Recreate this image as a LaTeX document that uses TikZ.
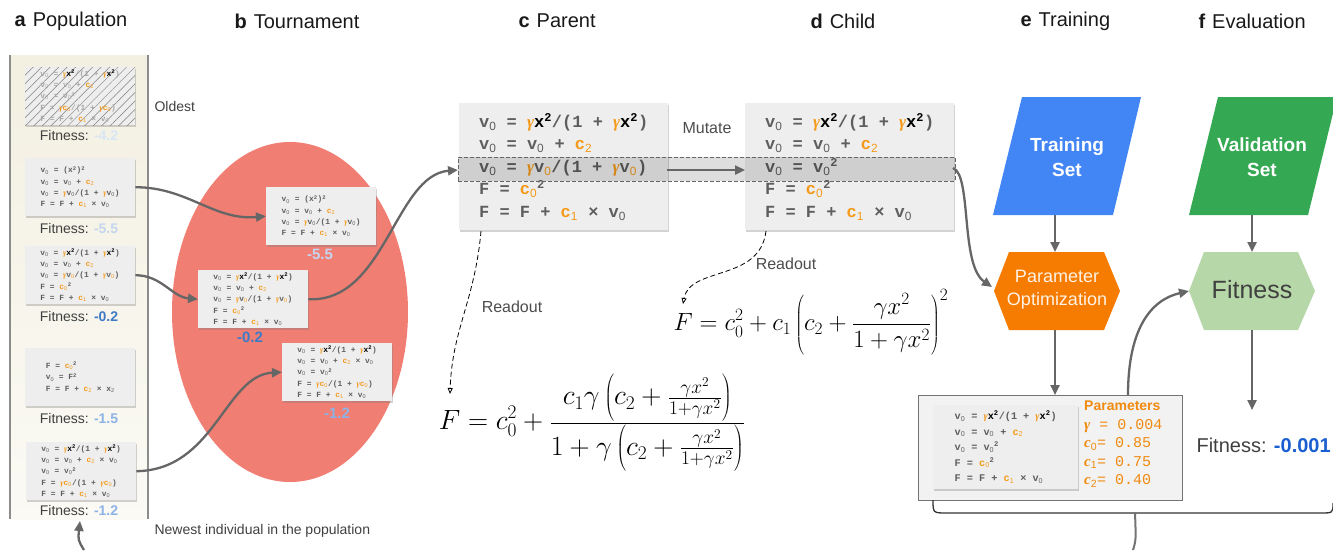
\documentclass[tikz,border=0pt]{standalone}
\usepackage[no-math]{fontspec}
\usepackage{graphicx}
\setmainfont{Liberation Sans}
\setsansfont{Liberation Sans}
\newfontfamily\codefont{Liberation Mono}
\newfontfamily\gfont{Liberation Serif}
\usetikzlibrary{arrows.meta,shadows,patterns.meta,shapes.geometric}
\definecolor{corg}{HTML}{F59A1A}
\definecolor{porg}{HTML}{F08A10}
\definecolor{codeg}{HTML}{5E5E5E}
\definecolor{boxg}{HTML}{EEEEEE}
\definecolor{salmon}{HTML}{F07E72}
\definecolor{beige}{HTML}{F3F0E1}
\definecolor{agray}{HTML}{666666}
\definecolor{tblue}{HTML}{4285F4}
\definecolor{vgreen}{HTML}{34A853}
\definecolor{oorange}{HTML}{F57C00}
\definecolor{lgreen}{HTML}{B6D7A8}
\definecolor{fblue}{HTML}{3F7AC6}
\definecolor{lblue}{HTML}{8DB3E6}
\definecolor{vlblue}{HTML}{C4D6EF}
\definecolor{xlblue}{HTML}{D8E5F5}
\definecolor{dblue}{HTML}{1A5FD0}
\newcommand\Vz{v\textsubscript{\sffamily\mdseries 0}}
\newcommand\Vo{v\textsubscript{\sffamily\mdseries\color{corg}0}}
\newcommand\Cc[1]{{\color{corg}c\textsubscript{\sffamily\mdseries #1}}}
\newcommand\Gm{{\color{corg}\gfont\bfseries\itshape γ}}
\newcommand\Xs{{\color{black}x\textsuperscript{2}}}
\newcommand\Tsq{\textsuperscript{2}}
\newcommand\Tall{\rule[-14pt]{0pt}{38pt}}
\newcommand\progA{\Vz{} = (x\Tsq)\Tsq\\ \Vz{} = \Vz{} + \Cc2\\ \Vz{} = \Gm\Vz/(1 + \Gm\Vz)\\ F = F + \Cc1{} × \Vz}
\newcommand\progB{\Vz{} = \Gm\Xs/(1 + \Gm\Xs)\\ \Vz{} = \Vz{} + \Cc2\\ \Vz{} = \Gm\Vo/(1 + \Gm\Vo)\\ F = \Cc0\Tsq\\ F = F + \Cc1{} × \Vz}
\newcommand\progC{F = \Cc0\Tsq\\ \Vz{} = F\Tsq\\ F = F + \Cc2{} × x\textsubscript{\sffamily\mdseries 2}}
\newcommand\progD{\Vz{} = \Gm\Xs/(1 + \Gm\Xs)\\ \Vz{} = \Vz{} + \Cc2{} × \Vz\\ \Vz{} = \Vz\Tsq\\ F = \Gm\Cc0/(1 + \Gm\Cc0)\\ F = F + \Cc1{} × \Vz}
\newcommand\progO{\Vz{} = \Gm\Xs/(1 + \Gm\Xs)\\ \Vz{} = \Vz{} + \Cc2\\ \Vz{} = \Vz\Tsq\\ F = \Gm\Cc0/(1 + \Gm\Cc0)\\ F = F + \Cc1{} × \Vz}
\newcommand\progE{\Vz{} = \Gm\Xs/(1 + \Gm\Xs)\\ \Vz{} = \Vz{} + \Cc2\\ \Vz{} = \Vz\Tsq\\ F = \Cc0\Tsq\\ F = F + \Cc1{} × \Vz}
\begin{document}
\begin{tikzpicture}[x=1pt,y=-1pt,
  conn/.style={draw=agray, line width=2.3pt, -{Triangle[length=10pt,width=9pt]}},
  rdout/.style={draw=black, line width=0.8pt, dash pattern=on 5pt off 3pt, -{Triangle[open,length=6pt,width=5pt]}},
  cbox/.style={fill=boxg, anchor=north west, inner sep=0pt, align=left, text=codeg, drop shadow={shadow xshift=1pt,shadow yshift=-2pt,opacity=0.35}},
  sbox/.style={cbox, minimum width=110pt, minimum height=58pt, font=\codefont\bfseries\fontsize{7.9}{11.3}\selectfont},
  bbox/.style={cbox, minimum width=209pt, minimum height=127pt, font=\codefont\bfseries\fontsize{17}{22.5}\selectfont},
  fitl/.style={font=\fontsize{14}{16}\selectfont, text=black!75},
  tval/.style={font=\bfseries\fontsize{15}{18}\selectfont},
  head/.style={anchor=west, font=\fontsize{20}{24}\selectfont, text=black!90},
  lbl/.style={font=\fontsize{16}{19}\selectfont, text=black!70},
]
\useasboundingbox (0,0) rectangle (1333,550);
% headings
\node[head] (ha) at (11,21) {\textbf{a}\hspace{7pt}Population};
\node[head] (hb) at (231,21) {\textbf{b}\hspace{7pt}Tournament};
\node[head] (hc) at (515,21) {\textbf{c}\hspace{7pt}Parent};
\node[head] (hd) at (807,21) {\textbf{d}\hspace{7pt}Child};
\node[head] (he) at (1017,21) {\textbf{e}\hspace{7pt}Training};
\node[head] (hf) at (1195,21) {\textbf{f}\hspace{7pt}Evaluation};
% population panel
\fill[top color=beige, bottom color=beige!35] (10,55) rectangle (148,519);
\draw[black!45, line width=2pt] (10,55) -- (10,519) (148,55) -- (148,519);
\node[sbox, text=codeg!55, postaction={pattern={Lines[angle=45,distance=6pt,line width=0.5pt]}, pattern color=black!50}] (p1) at (25,67) {\progO};
\node[fitl] (p1f) at (79,135) {Fitness: \textbf{\color{xlblue}-4.2}};
\node[sbox] (p2) at (25,158) {\progA};
\node[fitl] (p2f) at (79,228) {Fitness: \textbf{\color{vlblue}-5.5}};
\node[sbox] (p3) at (25,246) {\progB};
\node[fitl] (p3f) at (79,316) {Fitness: \textbf{\color{fblue}-0.2}};
\node[sbox] (p4) at (25,348) {\progC};
\node[fitl] (p4f) at (79,418) {Fitness: \textbf{\color{lblue}-1.5}};
\node[sbox] (p5) at (26,442) {\progD};
\node[fitl] (p5f) at (79,510) {Fitness: \textbf{\color{lblue}-1.2}};
\node[anchor=west, font=\fontsize{14}{16}\selectfont, text=black!75] (old) at (151,106) {Oldest};
\node[anchor=west, font=\fontsize{14}{16}\selectfont, text=black!75] (new) at (151,531) {Newest individual in the population};
\coordinate (ret) at (80,521);
\coordinate (retin) at (84,550);
\draw[conn] (retin) .. controls (78,540) .. (ret);
% tournament
\node[ellipse, fill=salmon, minimum width=236pt, minimum height=340pt] (tour) at (290,312) {};
\node[sbox] (t1) at (266,187) {\progA};
\node[tval, text=vlblue] (t1f) at (320,254) {-5.5};
\node[sbox] (t2) at (198,270) {\progB};
\node[tval, text=fblue] (t2f) at (250,337) {-0.2};
\node[sbox] (t3) at (282,343) {\progD};
\node[tval, text=lblue] (t3f) at (337,413) {-1.2};
\draw[conn] (p2.east) to[out=0, in=185] (t1.west);
\draw[conn] (p3.east) to[out=0, in=175] (t2.west);
\draw[conn] (p5.east) .. controls (215,470) and (225,375) .. (t3.west);
% parent and child
\node[bbox] (par) at (459,103) {\progB};
\node[bbox] (chd) at (745,103) {\progE};
\node[draw=black!60, dash pattern=on 4pt off 2pt, fill=black, fill opacity=0.13, line width=0.8pt, minimum width=497pt, minimum height=24pt, inner sep=0pt, anchor=north west] (band) at (458,157) {};
\coordinate (pout) at (667,170);
\coordinate (cin) at (745,170);
\coordinate (cout) at (953,168);
\draw[conn] (t2.east) .. controls (385,303) and (395,175) .. (458,170);
\draw[conn] (pout) -- (cin);
\node[lbl] (mut) at (707,128) {Mutate};
% readouts
\coordinate (pr) at (481,231);
\coordinate (pre) at (450,394);
\coordinate (cr) at (766,231);
\coordinate (cre) at (683,304);
\draw[rdout] (pr) .. controls (475,300) and (452,330) .. (pre);
\draw[rdout] (cr) .. controls (760,282) and (690,266) .. (cre);
\node[lbl] (r1) at (512,307) {Readout};
\node[lbl] (r2) at (786,264) {Readout};
\node (f1) at (592,423) {\scalebox{1.12}{\fontsize{25}{30}\selectfont $\displaystyle F = c_0^2 + \frac{c_1\gamma\left(\Tall c_2+\frac{\gamma x^2}{1+\gamma x^2}\right)}{1+\gamma\left(\Tall c_2+\frac{\gamma x^2}{1+\gamma x^2}\right)}$}};
\node (f2) at (811,322) {\fontsize{25}{30}\selectfont $\displaystyle F = c_0^2 + c_1\left(c_2+\frac{\gamma x^2}{1+\gamma x^2}\right)^2$};
% training / evaluation
\fill[tblue] (993,215) -- (1022,97) -- (1141,97) -- (1113,215) -- cycle;
\node[text=white, font=\bfseries\fontsize{19}{25}\selectfont, align=center] (ts) at (1067,157) {Training\\Set};
\fill[vgreen] (1189,215) -- (1218,97) -- (1337,97) -- (1308,215) -- cycle;
\node[text=white, font=\bfseries\fontsize{19}{25}\selectfont, align=center] (vs) at (1262,157) {Validation\\Set};
\fill[oorange] (994,291) -- (1009,252) -- (1104,252) -- (1120,291) -- (1104,330) -- (1009,330) -- cycle;
\node[text=white!90!orange, font=\fontsize{18}{23}\selectfont, align=center] (po) at (1057,290) {Parameter\\Optimization};
\fill[lgreen] (1189,291) -- (1204,252) -- (1298,252) -- (1315,291) -- (1298,330) -- (1204,330) -- cycle;
\node[text=black!75, font=\fontsize{25}{30}\selectfont] (fit) at (1252,290) {Fitness};
\coordinate (tsb) at (1055,215);
\coordinate (pot) at (1055,252);
\coordinate (pob) at (1055,330);
\coordinate (pol) at (992,287);
\coordinate (vsb) at (1252,215);
\coordinate (fitt) at (1252,252);
\coordinate (fitb) at (1252,330);
\coordinate (fitw) at (1189,291);
\draw[conn] (tsb) -- (pot);
\draw[conn] (vsb) -- (fitt);
\draw[conn] (cout) .. controls (972,175) and (960,265) .. (pol);
% params box
\node[draw=black!55, fill=black!5, line width=0.8pt, minimum width=264pt, minimum height=105pt, inner sep=0pt, anchor=north west] (prm) at (918,395) {};
\node[cbox, minimum width=145pt, minimum height=84pt, font=\codefont\bfseries\fontsize{10.2}{15.5}\selectfont] (pcode) at (933,405) {\progE};
\node[anchor=north west, align=left, text=porg, inner sep=0pt, font=\codefont\fontsize{15}{18.5}\selectfont] (ptxt) at (1084,401) {{\sffamily\bfseries\fontsize{14}{18.5}\selectfont Parameters}\\ {\gfont\bfseries\itshape γ} = 0.004\\ {\gfont\bfseries\itshape c}\textsubscript{\sffamily 0}= 0.85\\ {\gfont\bfseries\itshape c}\textsubscript{\sffamily 1}= 0.75\\ {\gfont\bfseries\itshape c}\textsubscript{\sffamily 2}= 0.40};
\coordinate (prmt) at (1055,395);
\coordinate (prmo) at (1128,395);
\draw[conn] (pob) -- (prmt);
\draw[conn] (prmo) .. controls (1128,330) and (1150,300) .. (fitw);
\node[anchor=west, font=\fontsize{20}{24}\selectfont, text=black!75] (fres) at (1193,445) {Fitness: \textbf{\color{dblue}-0.001}};
\coordinate (fresn) at (1252,410);
\draw[conn] (fitb) -- (fresn);
% bracket
\coordinate (brl) at (933,500);
\coordinate (brr) at (1333,503);
\coordinate (brs) at (1135,513);
\coordinate (bre) at (1133,550);
\draw[black!80, line width=1.3pt] (brl) .. controls (933,513) .. (947,513) -- (1320,513) .. controls (1333,513) .. (brr);
\draw[black!55, line width=2pt] (brs) .. controls (1136,540) .. (bre);
\end{tikzpicture}
\end{document}
